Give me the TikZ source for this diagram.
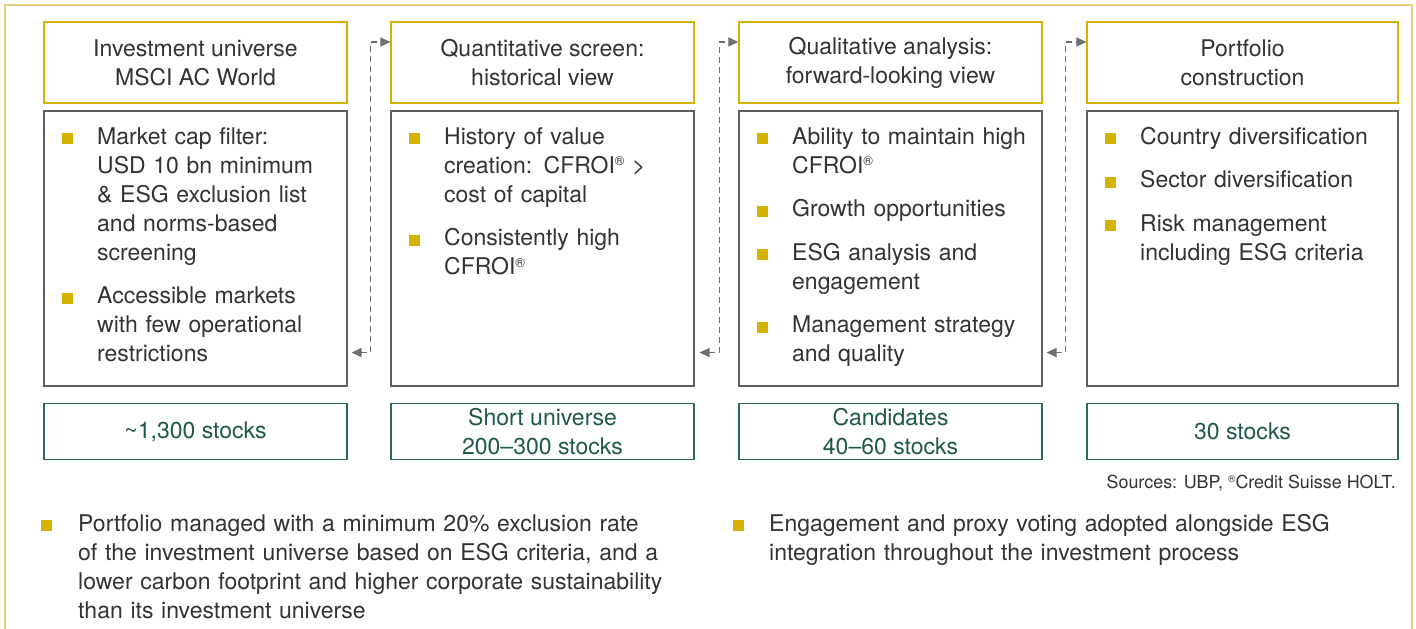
\documentclass[tikz,border=0pt]{standalone}
\usepackage{fontspec}
\setmainfont{TeX Gyre Heros}
\usetikzlibrary{arrows.meta,calc}
\definecolor{gold}{HTML}{D3B300}
\definecolor{framegold}{HTML}{E5D27A}
\definecolor{boxgray}{HTML}{5E5E5E}
\definecolor{stockgreen}{HTML}{2C6A52}
\definecolor{stocktext}{HTML}{1F5A42}
\definecolor{txt}{HTML}{333333}
\definecolor{conngray}{HTML}{6D6E71}
\newcommand{\reg}{\raisebox{0.6ex}{\fontsize{13}{13}\selectfont ®}}
\newcommand{\regs}{\raisebox{0.6ex}{\fontsize{10}{10}\selectfont ®}}
\newcommand{\bulx}[1]{\noindent\hangindent=#1\hangafter=1\makebox[#1][l]{\textcolor{gold}{\rule{11pt}{11pt}}}}
\newcommand{\bul}{\bulx{35pt}}
\newcommand{\itemgap}{\par\vspace{14.5pt}}
\begin{document}
\begin{tikzpicture}[x=1pt,y=-1pt,
  every node/.style={font=\fontsize{23}{29}\selectfont, text=txt},
  headbox/.style={draw=gold, line width=1.3pt, minimum height=81pt, inner sep=0pt, align=center},
  bodybox/.style={draw=boxgray, line width=1.1pt, minimum height=275pt, inner sep=0pt},
  stockbox/.style={draw=stockgreen, line width=1.3pt, minimum height=56pt, inner sep=0pt, align=center, text=stocktext},
  bodytext/.style={anchor=base west, inner sep=0pt, text width=285pt},
  conn/.style={draw=conngray, line width=1.2pt, dash pattern=on 6pt off 4pt,
    {Triangle[length=10pt,width=9pt]}-{Triangle[length=10pt,width=9pt]}}
]
\useasboundingbox (0,0) rectangle (1416,629);
\fill[white] (0,0) rectangle (1416,629);
% outer frame
\draw[framegold, line width=1.6pt] (5,640) -- (5,5) -- (1412,5) -- (1412,640);

% headers
\node[headbox, minimum width=303pt] (h1) at (195.5,62.5) {Investment universe\\MSCI AC World};
\node[headbox, minimum width=303pt] (h2) at (542.5,62.5) {Quantitative screen:\\historical view};
\node[headbox, minimum width=303pt] (h3) at (890.5,62.5) {Qualitative analysis:\\forward-looking view};
\node[headbox, minimum width=311pt] (h4) at (1242.5,62.5) {Portfolio\\construction};

% bodies
\node[bodybox, minimum width=303pt] (b1) at (195.5,248.5) {};
\node[bodybox, minimum width=303pt] (b2) at (542.5,248.5) {};
\node[bodybox, minimum width=303pt] (b3) at (890.5,248.5) {};
\node[bodybox, minimum width=311pt] (b4) at (1242.5,248.5) {};

% stocks
\node[stockbox, minimum width=303pt] (s1) at (195.5,431.5) {\textasciitilde 1,300 stocks};
\node[stockbox, minimum width=303pt] (s2) at (542.5,431.5) {Short universe\\200–300 stocks};
\node[stockbox, minimum width=303pt] (s3) at (890.5,431.5) {Candidates\\40–60 stocks};
\node[stockbox, minimum width=311pt] (s4) at (1242.5,431.5) {30 stocks};

% body texts
\node[bodytext] (t1) at (62,144) {\bul Market cap filter:\newline USD 10 bn minimum\newline \& ESG exclusion list\newline and norms-based\newline screening\itemgap
\bul Accessible markets\newline with few operational\newline restrictions\par};
\node[bodytext] (t2) at (409,144) {\bul History of value\newline creation: CFROI\reg{} >\newline cost of capital\itemgap
\bul Consistently high\newline CFROI\reg\par};
\node[bodytext] (t3) at (757,144) {\bul Ability to maintain high\newline CFROI\reg\itemgap
\bul Growth opportunities\itemgap
\bul ESG analysis and\newline engagement\itemgap
\bul Management strategy\newline and quality\par};
\node[bodytext] (t4) at (1105,144) {\bul Country diversification\itemgap
\bul Sector diversification\itemgap
\bul Risk management\newline including ESG criteria\par};

% connectors
\draw[conn] ([xshift=4pt,yshift=34pt]b1.south east) -- ++(19,0) |- ([yshift=20.5pt]h2.west);
\draw[conn] ([xshift=5pt,yshift=34pt]b2.south east) -- ++(20,0) |- ([yshift=20.5pt]h3.west);
\draw[conn] ([xshift=4pt,yshift=34pt]b3.south east) -- ++(19,0) |- ([yshift=20.5pt]h4.west);

% sources
\node[anchor=base east, inner sep=0pt, font=\fontsize{17.9}{21}\selectfont] (src) at (1396,488) {Sources: UBP, \regs Credit Suisse HOLT.};

% bottom notes
\node[bodytext, text width=660pt] (n1) at (41,531) {\bulx{37pt}Portfolio managed with a minimum 20\% exclusion rate\newline of the investment universe based on ESG criteria, and a\newline lower carbon footprint and higher corporate sustainability\newline than its investment universe\par};
\node[bodytext, text width=660pt] (n2) at (733,531) {\bulx{36pt}Engagement and proxy voting adopted alongside ESG\newline integration throughout the investment process\par};
\end{tikzpicture}
\end{document}
